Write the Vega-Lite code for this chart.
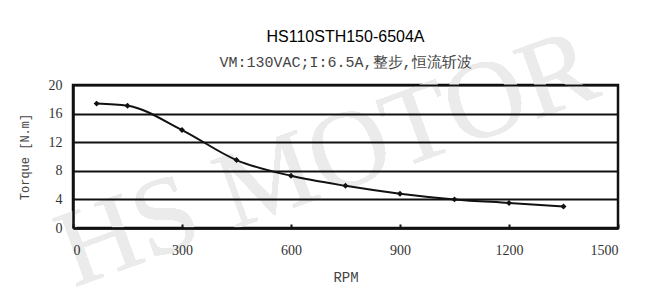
{
  "$schema": "https://vega.github.io/schema/vega-lite/v6.json",
  "width": 545,
  "height": 143,
  "autosize": {"type": "none"},
  "padding": {"left": 73, "top": 85, "right": 35, "bottom": 72},
  "background": "white",
  "title": {
    "text": "HS110STH150-6504A",
    "subtitle": "VM:130VAC;I:6.5A,整步,恒流斩波",
    "anchor": "middle",
    "frame": "group",
    "font": "Liberation Sans",
    "fontSize": 16,
    "fontWeight": "normal",
    "color": "#000000",
    "subtitleFont": "Liberation Mono",
    "subtitleFontSize": 15,
    "subtitleColor": "#444444",
    "subtitlePadding": 10,
    "offset": -58
  },
  "config": {
    "view": {"stroke": "#111111", "strokeWidth": 2.5},
    "axis": {
      "labelFont": "Liberation Serif",
      "labelFontSize": 14,
      "labelColor": "#333333",
      "titleFont": "Liberation Mono",
      "titleFontSize": 12,
      "titleFontWeight": "normal",
      "titleColor": "#444444"
    }
  },
  "data": {
    "values": [
      {"rpm": 65, "torque": 17.4},
      {"rpm": 150, "torque": 17.1},
      {"rpm": 300, "torque": 13.7},
      {"rpm": 450, "torque": 9.5},
      {"rpm": 600, "torque": 7.3},
      {"rpm": 750, "torque": 5.9},
      {"rpm": 900, "torque": 4.8},
      {"rpm": 1050, "torque": 4.0},
      {"rpm": 1200, "torque": 3.5},
      {"rpm": 1350, "torque": 3.0}
    ]
  },
  "encoding": {
    "x": {
      "field": "rpm",
      "type": "quantitative",
      "scale": {"domain": [0, 1500], "nice": false},
      "axis": {
        "zindex": 2,
        "title": "RPM",
        "titleFontSize": 14,
        "values": [0, 300, 600, 900, 1200, 1500],
        "format": "d",
        "grid": false,
        "domain": true,
        "domainColor": "#111111",
        "domainWidth": 2.5,
        "ticks": true,
        "tickSize": -4,
        "tickWidth": 2,
        "tickColor": "#111111",
        "labelPadding": 19,
        "titlePadding": 13
      }
    },
    "y": {
      "field": "torque",
      "type": "quantitative",
      "scale": {"domain": [0, 20], "nice": false},
      "axis": {
        "zindex": 2,
        "title": "Torque [N.m]",
        "values": [0, 4, 8, 12, 16, 20],
        "grid": true,
        "gridColor": "#111111",
        "gridWidth": 2,
        "gridOpacity": 1,
        "domain": true,
        "domainColor": "#111111",
        "domainWidth": 2.5,
        "ticks": false,
        "labelPadding": 11,
        "titlePadding": 17
      }
    }
  },
  "layer": [
    {
      "mark": {
        "type": "text",
        "text": "HS MOTOR",
        "font": "Liberation Serif",
        "fontSize": 110,
        "angle": -20,
        "color": "#ebebeb",
        "align": "center",
        "baseline": "middle"
      },
      "encoding": {
        "x": {"datum": 700},
        "y": {"datum": 9.5}
      }
    },
    {
      "mark": {"type": "line", "interpolate": "monotone", "color": "#111111", "strokeWidth": 2}
    },
    {
      "mark": {"type": "point", "shape": "diamond", "filled": true, "color": "#111111", "size": 35, "opacity": 1}
    }
  ]
}
